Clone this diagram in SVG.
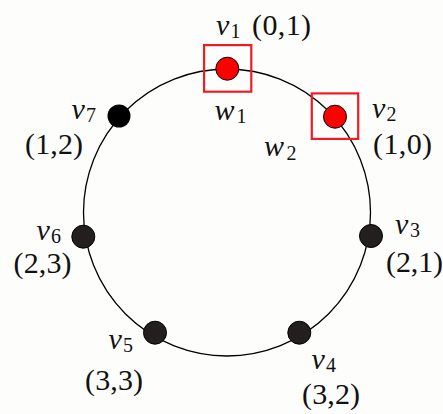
<svg xmlns="http://www.w3.org/2000/svg" width="443" height="414" viewBox="0 0 443 414">
<style>
.t{font-family:"Liberation Serif","Times New Roman",serif;font-size:30px;fill:#111}
.i{font-style:italic}
.s{font-size:20px}
.red{fill:#ff0000;stroke:#000;stroke-width:1}
.blk{fill:#231f1e;stroke:#000;stroke-width:1}
.box{fill:none;stroke:#ee1c24;stroke-width:2.2}
</style>
<rect width="443" height="414" fill="#fdfdfb"/>
<g id="connectors">
<circle cx="227" cy="212.5" r="143.5" fill="none" stroke="#000" stroke-width="1.3"/>
</g>
<g id="v1">
<circle class="red" cx="227.3" cy="68.7" r="11.5"/>
<rect class="box" x="204.1" y="45.1" width="47.2" height="46.6"/>
<text class="t i" x="216" y="34.5">v</text><text class="t s" x="230.5" y="38">1</text>
<text class="t" x="252" y="34.5" textLength="59" lengthAdjust="spacing">(0,1)</text>
<text class="t i" x="214.5" y="119.5">w</text><text class="t s" x="236.5" y="123">1</text>
</g>
<g id="v2">
<circle class="red" cx="335" cy="116.7" r="11.5"/>
<rect class="box" x="311.8" y="93.4" width="46.4" height="45.5"/>
<text class="t i" x="372" y="117.5">v</text><text class="t s" x="386.5" y="121">2</text>
<text class="t" x="373" y="154" textLength="59" lengthAdjust="spacing">(1,0)</text>
</g>
<g id="w2">
<text class="t i" x="264" y="156">w</text><text class="t s" x="286.5" y="159.5">2</text>
</g>
<g id="v3">
<circle class="blk" cx="371" cy="236" r="11.5"/>
<text class="t i" x="395" y="233.5">v</text><text class="t s" x="410" y="237">3</text>
<text class="t" x="386" y="271.5" textLength="57" lengthAdjust="spacing">(2,1)</text>
</g>
<g id="v4">
<circle class="blk" cx="299.3" cy="332.7" r="11.5"/>
<text class="t i" x="311.5" y="368.5">v</text><text class="t s" x="326" y="372">4</text>
<text class="t" x="302" y="403.5" textLength="58" lengthAdjust="spacing">(3,2)</text>
</g>
<g id="v5">
<circle class="blk" cx="155" cy="332.7" r="11.5"/>
<text class="t i" x="108.5" y="348.5">v</text><text class="t s" x="123" y="352">5</text>
<text class="t" x="85" y="390" textLength="58" lengthAdjust="spacing">(3,3)</text>
</g>
<g id="v6">
<circle class="blk" cx="83.3" cy="236.7" r="11.5"/>
<text class="t i" x="36.5" y="239.5">v</text><text class="t s" x="51" y="243">6</text>
<text class="t" x="13.5" y="272.5" textLength="58" lengthAdjust="spacing">(2,3)</text>
</g>
<g id="v7">
<circle cx="119" cy="116" r="11.5" fill="#000"/>
<text class="t i" x="71.5" y="118.5">v</text><text class="t s" x="86" y="122">7</text>
<text class="t" x="25" y="153.5" textLength="58" lengthAdjust="spacing">(1,2)</text>
</g>
</svg>
